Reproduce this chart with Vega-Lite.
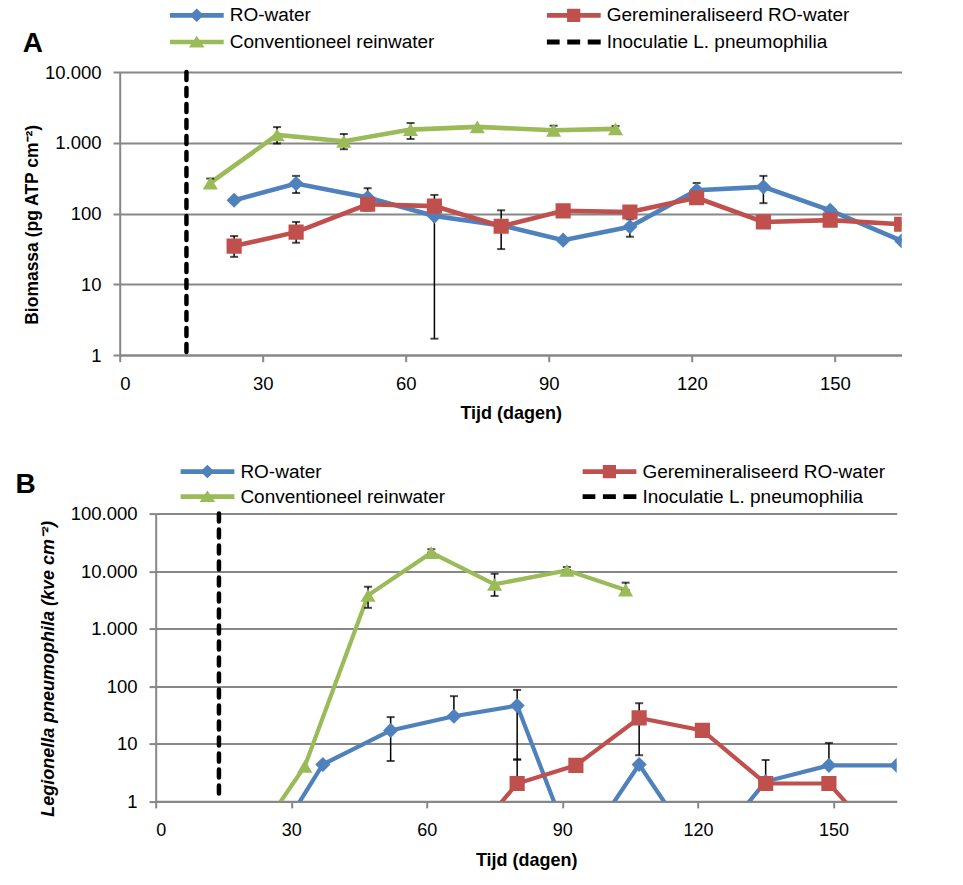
{
  "$schema": "https://vega.github.io/schema/vega-lite/v6.json",
  "padding": {"left": 14.7, "top": 5, "right": 0, "bottom": 0},
  "background": "white",
  "config": {
    "view": {"stroke": null},
    "font": "Liberation Sans",
    "axis": {
      "domainColor": "#878787", "domainWidth": 2,
      "tickColor": "#878787", "tickWidth": 2, "tickSize": 6.7,
      "gridColor": "#878787", "gridWidth": 2,
      "labelColor": "#000", "titleColor": "#000",
      "labelFont": "Liberation Sans", "titleFont": "Liberation Sans"
    }
  },
  "datasets": {
    "A": [
      {"series": "Inoculatie L. pneumophilia", "day": 14},
      {"series": "RO-water", "day": 24, "value": 154},
      {"series": "RO-water", "day": 37, "value": 265, "lo": 195, "hi": 340},
      {"series": "RO-water", "day": 52, "value": 168, "lo": 110, "hi": 228},
      {"series": "RO-water", "day": 66, "value": 92, "lo": 1.7, "hi": 183},
      {"series": "RO-water", "day": 80, "value": 68},
      {"series": "RO-water", "day": 93, "value": 42},
      {"series": "RO-water", "day": 107, "value": 65, "lo": 47, "hi": 83},
      {"series": "RO-water", "day": 121, "value": 213, "lo": 156, "hi": 270},
      {"series": "RO-water", "day": 135, "value": 238, "lo": 140, "hi": 340},
      {"series": "RO-water", "day": 149, "value": 111},
      {"series": "RO-water", "day": 164, "value": 41},
      {"series": "Geremineraliseerd RO-water", "day": 24, "value": 34.6, "lo": 24.4, "hi": 48},
      {"series": "Geremineraliseerd RO-water", "day": 37, "value": 54.5, "lo": 38.6, "hi": 76},
      {"series": "Geremineraliseerd RO-water", "day": 52, "value": 135},
      {"series": "Geremineraliseerd RO-water", "day": 66, "value": 127},
      {"series": "Geremineraliseerd RO-water", "day": 80, "value": 66, "lo": 31.4, "hi": 111},
      {"series": "Geremineraliseerd RO-water", "day": 93, "value": 109},
      {"series": "Geremineraliseerd RO-water", "day": 107, "value": 105},
      {"series": "Geremineraliseerd RO-water", "day": 121, "value": 167},
      {"series": "Geremineraliseerd RO-water", "day": 135, "value": 76},
      {"series": "Geremineraliseerd RO-water", "day": 149, "value": 80.5},
      {"series": "Geremineraliseerd RO-water", "day": 164, "value": 70.5},
      {"series": "Conventioneel reinwater", "day": 19, "value": 270, "lo": 230, "hi": 312},
      {"series": "Conventioneel reinwater", "day": 33, "value": 1290, "lo": 975, "hi": 1665},
      {"series": "Conventioneel reinwater", "day": 47, "value": 1049, "lo": 810, "hi": 1330},
      {"series": "Conventioneel reinwater", "day": 61, "value": 1535, "lo": 1130, "hi": 1900},
      {"series": "Conventioneel reinwater", "day": 75, "value": 1674},
      {"series": "Conventioneel reinwater", "day": 91, "value": 1500, "lo": 1300, "hi": 1740},
      {"series": "Conventioneel reinwater", "day": 104, "value": 1570, "lo": 1420, "hi": 1720}
    ],
    "B": [
      {"series": "Inoculatie L. pneumophilia", "day": 14},
      {"series": "RO-water", "day": 24, "value": 0.1},
      {"series": "RO-water", "day": 37, "value": 4.35},
      {"series": "RO-water", "day": 52, "value": 17, "lo": 5, "hi": 29},
      {"series": "RO-water", "day": 66, "value": 30, "lo": 30, "hi": 67},
      {"series": "RO-water", "day": 80, "value": 46, "lo": 5.3, "hi": 86},
      {"series": "RO-water", "day": 93, "value": 0.1},
      {"series": "RO-water", "day": 107, "value": 4.35},
      {"series": "RO-water", "day": 121, "value": 0.1},
      {"series": "RO-water", "day": 135, "value": 2.2, "lo": 2.2, "hi": 5.2},
      {"series": "RO-water", "day": 149, "value": 4.2, "lo": 4.2, "hi": 10.3},
      {"series": "RO-water", "day": 164, "value": 4.2},
      {"series": "Geremineraliseerd RO-water", "day": 24, "value": 0.1},
      {"series": "Geremineraliseerd RO-water", "day": 37, "value": 0.1},
      {"series": "Geremineraliseerd RO-water", "day": 52, "value": 0.1},
      {"series": "Geremineraliseerd RO-water", "day": 66, "value": 0.1},
      {"series": "Geremineraliseerd RO-water", "day": 80, "value": 2.03, "lo": 2.03, "hi": 5.3},
      {"series": "Geremineraliseerd RO-water", "day": 93, "value": 4.2},
      {"series": "Geremineraliseerd RO-water", "day": 107, "value": 28, "lo": 6.3, "hi": 50.5},
      {"series": "Geremineraliseerd RO-water", "day": 121, "value": 17},
      {"series": "Geremineraliseerd RO-water", "day": 135, "value": 2.03},
      {"series": "Geremineraliseerd RO-water", "day": 149, "value": 2.03},
      {"series": "Geremineraliseerd RO-water", "day": 164, "value": 0.1},
      {"series": "Conventioneel reinwater", "day": 19, "value": 0.1},
      {"series": "Conventioneel reinwater", "day": 33, "value": 4.06},
      {"series": "Conventioneel reinwater", "day": 47, "value": 3790, "lo": 2300, "hi": 5350},
      {"series": "Conventioneel reinwater", "day": 61, "value": 20950, "lo": 20950, "hi": 24000},
      {"series": "Conventioneel reinwater", "day": 75, "value": 5890, "lo": 3700, "hi": 9000},
      {"series": "Conventioneel reinwater", "day": 91, "value": 10300, "lo": 10300, "hi": 11800},
      {"series": "Conventioneel reinwater", "day": 104, "value": 4700, "lo": 4700, "hi": 6300}
    ]
  },
  "spacing": 38.6,
  "resolve": {
    "scale": {"color": "independent", "shape": "independent"},
    "legend": {"color": "independent", "shape": "independent"}
  },
  "vconcat": [
    {
      "width": 782,
      "height": 283,
      "data": {"name": "A"},
      "encoding": {
        "x": {
          "field": "day", "type": "quantitative",
          "scale": {"domain": [0, 164], "nice": false, "zero": false},
          "axis": {
            "values": [0, 30, 60, 90, 120, 150], "grid": false,
            "title": "Tijd (dagen)", "titleFontSize": 18, "titleFontWeight": "bold",
            "labelFontSize": 18.5, "labelPadding": 12.6, "titlePadding": 12
          }
        },
        "color": {
          "field": "series", "type": "nominal",
          "scale": {
            "domain": ["RO-water", "Geremineraliseerd RO-water", "Conventioneel reinwater", "Inoculatie L. pneumophilia"],
            "range": ["#4F81BD", "#C0504D", "#9BBB59", "#000000"]
          },
          "legend": {
            "title": "A", "orient": "none", "direction": "horizontal", "legendX": -97, "legendY": -66.7,
            "columns": 2, "columnPadding": 112, "rowPadding": 6.7, "padding": 0,
            "titleOrient": "left", "titleAnchor": "end", "titleBaseline": "alphabetic",
            "titleFont": "Liberation Sans", "titleFontSize": 28, "titleFontWeight": "bold",
            "titleColor": "#000", "titlePadding": 126,
            "labelFont": "Liberation Sans", "labelFontSize": 19, "labelColor": "#000",
            "labelOffset": 6, "labelLimit": 400,
            "symbolSize": 2916, "clipHeight": 20,
            "encode": {
              "symbols": {
                "update": {
                  "shape": {"signal": "datum.value === 'RO-water' ? 'M-1,-0.087H1V0.087H-1Z M-0.26,0L0,-0.25L0.26,0L0,0.25Z' : datum.value === 'Geremineraliseerd RO-water' ? 'M-1,-0.087H1V0.087H-1Z M-0.245,-0.245H0.245V0.245H-0.245Z' : datum.value === 'Conventioneel reinwater' ? 'M-1,-0.087H1V0.087H-1Z M0,-0.23L0.29,0.2H-0.29Z' : 'M-1,-0.09H-0.52V0.09H-1Z M-0.24,-0.09H0.24V0.09H-0.24Z M0.52,-0.09H1V0.09H0.52Z'"},
                  "fill": {"signal": "datum.value === 'RO-water' ? '#4F81BD' : datum.value === 'Geremineraliseerd RO-water' ? '#C0504D' : datum.value === 'Conventioneel reinwater' ? '#9BBB59' : '#000000'"},
                  "stroke": {"value": "transparent"},
                  "strokeWidth": {"value": 0},
                  "opacity": {"value": 1}
                }
              }
            }
          }
        }
      },
      "layer": [
        {
          "transform": [{"filter": "datum.series === 'Inoculatie L. pneumophilia'"}],
          "mark": {"type": "rule", "strokeWidth": 4.5, "strokeDash": [8, 8], "strokeCap": "round"},
          "encoding": {}
        },
        {
          "transform": [{"filter": "datum.series !== 'Inoculatie L. pneumophilia'"}],
          "mark": {"type": "line", "strokeWidth": 4.6, "clip": true},
          "encoding": {
            "y": {
              "field": "value", "type": "quantitative",
              "scale": {"type": "log", "domain": [1, 10000], "nice": false},
              "title": "Biomassa (pg ATP cm⁻²)",
              "axis": {
                "values": [1, 10, 100, 1000, 10000],
                "labelExpr": "replace(format(datum.value, ','), ',', '.')",
                "labelFontSize": 18.5, "labelPadding": 12,
                "titleFontSize": 17.5, "titleFontWeight": "bold", "titlePadding": 3,
                "titleY": 152.3
              }
            }
          }
        },
        {
          "transform": [{"filter": "isValid(datum.lo)"}],
          "mark": {"type": "errorbar", "ticks": {"size": 8, "thickness": 2}, "rule": {"strokeWidth": 1.5}},
          "encoding": {
            "y": {
              "field": "lo", "type": "quantitative",
              "scale": {"type": "log", "domain": [1, 10000], "nice": false},
              "title": "Biomassa (pg ATP cm⁻²)",
              "axis": {
                "values": [1, 10, 100, 1000, 10000],
                "labelExpr": "replace(format(datum.value, ','), ',', '.')",
                "labelFontSize": 18.5, "labelPadding": 12,
                "titleFontSize": 17.5, "titleFontWeight": "bold", "titlePadding": 3,
                "titleY": 152.3
              }
            },
            "y2": {"field": "hi"},
            "color": {"value": "#000000"}
          }
        },
        {
          "transform": [{"filter": "datum.series !== 'Inoculatie L. pneumophilia'"}],
          "mark": {"type": "point", "filled": true, "opacity": 1, "size": 230, "clip": true},
          "encoding": {
            "y": {
              "field": "value", "type": "quantitative",
              "scale": {"type": "log", "domain": [1, 10000], "nice": false},
              "title": "Biomassa (pg ATP cm⁻²)",
              "axis": {
                "values": [1, 10, 100, 1000, 10000],
                "labelExpr": "replace(format(datum.value, ','), ',', '.')",
                "labelFontSize": 18.5, "labelPadding": 12,
                "titleFontSize": 17.5, "titleFontWeight": "bold", "titlePadding": 3,
                "titleY": 152.3
              }
            },
            "shape": {
              "field": "series", "type": "nominal",
              "scale": {
                "domain": ["RO-water", "Geremineraliseerd RO-water", "Conventioneel reinwater"],
                "range": ["diamond", "square", "M0,-0.85L1,0.85L-1,0.85Z"]
              },
              "legend": null
            }
          }
        }
      ]
    },
    {
      "width": 777,
      "height": 287.6,
      "data": {"name": "B"},
      "encoding": {
        "x": {
          "field": "day", "type": "quantitative",
          "scale": {"domain": [0, 164], "nice": false, "zero": false, "range": [36, 777]},
          "axis": {
            "values": [0, 30, 60, 90, 120, 150], "grid": false,
            "title": "Tijd (dagen)", "titleFontSize": 18, "titleFontWeight": "bold",
            "labelFontSize": 18, "labelPadding": 13.4, "titlePadding": 12
          }
        },
        "color": {
          "field": "series", "type": "nominal",
          "scale": {
            "domain": ["RO-water", "Geremineraliseerd RO-water", "Conventioneel reinwater", "Inoculatie L. pneumophilia"],
            "range": ["#4F81BD", "#C0504D", "#9BBB59", "#000000"]
          },
          "legend": {
            "title": "B", "orient": "none", "direction": "horizontal", "legendX": -104.3, "legendY": -52,
            "columns": 2, "columnPadding": 137, "rowPadding": 5, "padding": 0,
            "titleOrient": "left", "titleAnchor": "middle", "titleBaseline": "middle",
            "titleFont": "Liberation Sans", "titleFontSize": 28, "titleFontWeight": "bold",
            "titleColor": "#000", "titlePadding": 144,
            "labelFont": "Liberation Sans", "labelFontSize": 19, "labelColor": "#000",
            "labelOffset": 6, "labelLimit": 400,
            "symbolSize": 2916, "clipHeight": 20,
            "encode": {
              "symbols": {
                "update": {
                  "shape": {"signal": "datum.value === 'RO-water' ? 'M-1,-0.087H1V0.087H-1Z M-0.26,0L0,-0.25L0.26,0L0,0.25Z' : datum.value === 'Geremineraliseerd RO-water' ? 'M-1,-0.087H1V0.087H-1Z M-0.245,-0.245H0.245V0.245H-0.245Z' : datum.value === 'Conventioneel reinwater' ? 'M-1,-0.087H1V0.087H-1Z M0,-0.23L0.29,0.2H-0.29Z' : 'M-1,-0.09H-0.52V0.09H-1Z M-0.24,-0.09H0.24V0.09H-0.24Z M0.52,-0.09H1V0.09H0.52Z'"},
                  "fill": {"signal": "datum.value === 'RO-water' ? '#4F81BD' : datum.value === 'Geremineraliseerd RO-water' ? '#C0504D' : datum.value === 'Conventioneel reinwater' ? '#9BBB59' : '#000000'"},
                  "stroke": {"value": "transparent"},
                  "strokeWidth": {"value": 0},
                  "opacity": {"value": 1}
                }
              }
            }
          }
        }
      },
      "layer": [
        {
          "transform": [{"filter": "datum.series === 'Inoculatie L. pneumophilia'"}],
          "mark": {"type": "rule", "strokeWidth": 4.5, "strokeDash": [8, 8], "strokeCap": "round"},
          "encoding": {}
        },
        {
          "transform": [{"filter": "datum.series !== 'Inoculatie L. pneumophilia'"}],
          "mark": {"type": "line", "strokeWidth": 4.2, "clip": true},
          "encoding": {
            "y": {
              "field": "value", "type": "quantitative",
              "scale": {"type": "log", "domain": [1, 100000], "nice": false},
              "title": "Legionella pneumophila (kve cm⁻²)",
              "axis": {
                "values": [1, 10, 100, 1000, 10000, 100000],
                "labelExpr": "replace(format(datum.value, ','), ',', '.')",
                "offset": -36,
                "labelFontSize": 18.5, "labelPadding": 12,
                "titleFontSize": 18, "titleFontWeight": "bold", "titleFontStyle": "italic",
                "titlePadding": 13, "titleY": 154.8
              }
            }
          }
        },
        {
          "transform": [{"filter": "isValid(datum.lo)"}],
          "mark": {"type": "errorbar", "ticks": {"size": 8, "thickness": 2}, "rule": {"strokeWidth": 1.5}},
          "encoding": {
            "y": {
              "field": "lo", "type": "quantitative",
              "scale": {"type": "log", "domain": [1, 100000], "nice": false},
              "title": "Legionella pneumophila (kve cm⁻²)",
              "axis": {
                "values": [1, 10, 100, 1000, 10000, 100000],
                "labelExpr": "replace(format(datum.value, ','), ',', '.')",
                "offset": -36,
                "labelFontSize": 18.5, "labelPadding": 12,
                "titleFontSize": 18, "titleFontWeight": "bold", "titleFontStyle": "italic",
                "titlePadding": 13, "titleY": 154.8
              }
            },
            "y2": {"field": "hi"},
            "color": {"value": "#000000"}
          }
        },
        {
          "transform": [{"filter": "datum.series !== 'Inoculatie L. pneumophilia'"}],
          "mark": {"type": "point", "filled": true, "opacity": 1, "size": 230, "clip": true},
          "encoding": {
            "y": {
              "field": "value", "type": "quantitative",
              "scale": {"type": "log", "domain": [1, 100000], "nice": false},
              "title": "Legionella pneumophila (kve cm⁻²)",
              "axis": {
                "values": [1, 10, 100, 1000, 10000, 100000],
                "labelExpr": "replace(format(datum.value, ','), ',', '.')",
                "offset": -36,
                "labelFontSize": 18.5, "labelPadding": 12,
                "titleFontSize": 18, "titleFontWeight": "bold", "titleFontStyle": "italic",
                "titlePadding": 13, "titleY": 154.8
              }
            },
            "shape": {
              "field": "series", "type": "nominal",
              "scale": {
                "domain": ["RO-water", "Geremineraliseerd RO-water", "Conventioneel reinwater"],
                "range": ["diamond", "square", "M0,-0.85L1,0.85L-1,0.85Z"]
              },
              "legend": null
            }
          }
        }
      ]
    }
  ]
}
